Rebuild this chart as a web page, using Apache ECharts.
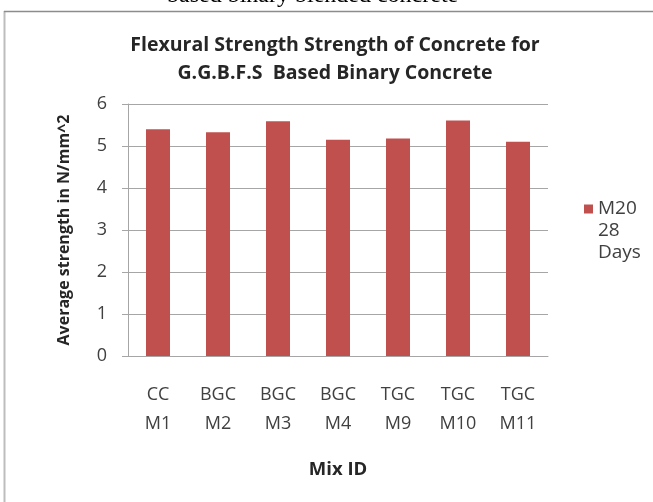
<!DOCTYPE html>
<html>
<head>
<meta charset="utf-8">
<script src="https://cdn.jsdelivr.net/npm/echarts@6/dist/echarts.min.js"></script>
<style>
  html, body { margin: 0; padding: 0; background: #fff; }
  #chart { width: 653px; height: 502px; }
</style>
</head>
<body>
<div id="chart"></div>
<script>
// Mix identifiers (two-line category labels)
const mixIds = ['CC\nM1', 'BGC\nM2', 'BGC\nM3', 'BGC\nM4', 'TGC\nM9', 'TGC\nM10', 'TGC\nM11'];
// Average flexural strength, N/mm^2, M20 at 28 days
const strength28 = [5.40, 5.33, 5.59, 5.15, 5.18, 5.61, 5.10];
const seriesName = 'M20\n28\nDays';
const yTicks = { min: 0, max: 6, interval: 1 };

const chart = echarts.init(document.getElementById('chart'), null, { renderer: 'canvas' });

const labelFont = '"Open Sans", "Liberation Sans", sans-serif';

chart.setOption({
  backgroundColor: '#ffffff',
  animation: false,
  title: {
    text: 'Flexural Strength Strength of Concrete for\nG.G.B.F.S  Based Binary Concrete',
    left: 330,
    top: 26,
    textAlign: 'center',
    textStyle: {
      fontFamily: labelFont,
      fontWeight: 'bold',
      fontSize: 19.5,
      lineHeight: 28,
      color: '#262626'
    }
  },
  legend: {
    orient: 'vertical',
    left: 579,
    top: 149,
    itemWidth: 9,
    itemHeight: 9,
    icon: 'rect',
    data: [seriesName],
    // two leading blank lines keep the marker beside the first line
    formatter: name => '\n\n' + name,
    textStyle: {
      fontFamily: labelFont,
      fontSize: 19,
      color: '#404040',
      lineHeight: 22
    }
  },
  grid: { left: 128, right: 105, top: 104, bottom: 146 },
  xAxis: {
    type: 'category',
    data: mixIds,
    name: 'Mix ID',
    nameLocation: 'middle',
    nameGap: 104,
    nameTextStyle: {
      fontFamily: labelFont,
      fontWeight: 'bold',
      fontSize: 18.5,
      color: '#262626'
    },
    axisLine: { lineStyle: { color: '#a6a6a6', width: 1 } },
    axisTick: { show: false },
    axisLabel: {
      fontFamily: labelFont,
      fontSize: 18,
      color: '#404040',
      lineHeight: 29,
      margin: 24,
      interval: 0
    }
  },
  yAxis: {
    type: 'value',
    min: yTicks.min,
    max: yTicks.max,
    interval: yTicks.interval,
    name: 'Average strength in N/mm^2',
    nameLocation: 'middle',
    nameRotate: 90,
    nameGap: 56,
    nameTextStyle: {
      fontFamily: labelFont,
      fontWeight: 'bold',
      fontSize: 16,
      color: '#262626'
    },
    axisLine: { show: true, lineStyle: { color: '#a6a6a6', width: 1 } },
    axisTick: { show: true, length: 6, lineStyle: { color: '#a6a6a6' } },
    splitLine: { show: true, lineStyle: { color: '#a6a6a6', width: 1 } },
    axisLabel: {
      fontFamily: labelFont,
      fontSize: 18,
      color: '#404040',
      margin: 21
    }
  },
  series: [{
    name: seriesName,
    type: 'bar',
    data: strength28,
    barWidth: 24,
    itemStyle: { color: '#c0504d' }
  }],
  graphic: [
    // chart area frame: left and top edges
    { type: 'line', shape: { x1: 4.5, y1: 11, x2: 4.5, y2: 502 }, style: { stroke: '#bdbdbd', lineWidth: 2 }, silent: true },
    { type: 'line', shape: { x1: 4, y1: 11.5, x2: 653, y2: 11.5 }, style: { stroke: '#8c8c8c', lineWidth: 1.5 }, silent: true },
    // caption text above the frame
    {
      type: 'text',
      left: 167,
      top: -16,
      style: {
        text: 'based binary blended concrete',
        font: '24px "Liberation Serif", serif',
        fill: '#000'
      },
      silent: true
    }
  ]
});
</script>
</body>
</html>
